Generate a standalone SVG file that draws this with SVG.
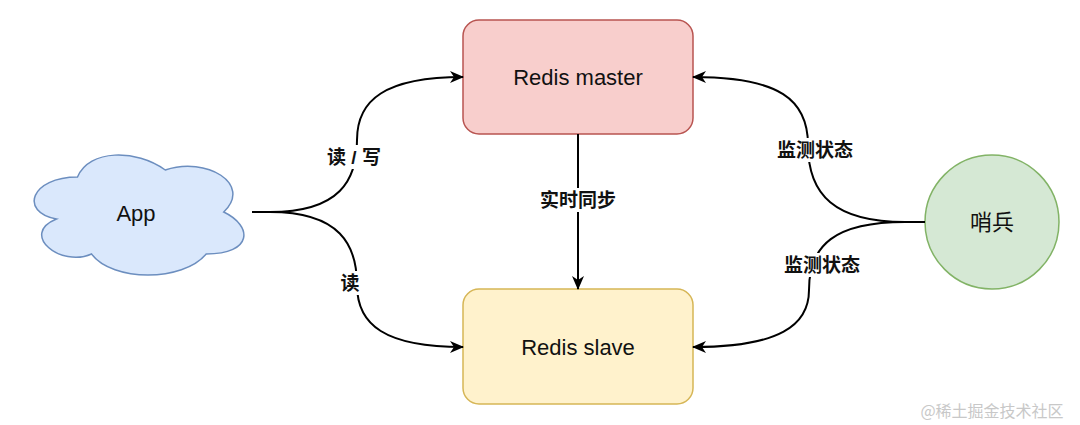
<svg xmlns="http://www.w3.org/2000/svg" width="1080" height="425" viewBox="0 0 1080 425">
<style>
.node{font-family:"Liberation Sans","Noto Sans CJK SC",sans-serif;font-size:22px;fill:#111;text-anchor:middle;dominant-baseline:central}
.lbl{font-family:"Liberation Sans","Noto Sans CJK SC",sans-serif;font-size:19px;font-weight:bold;fill:#111;text-anchor:middle;dominant-baseline:central}
.edge{fill:none;stroke:#000;stroke-width:2;marker-end:url(#arr)}
.bg{fill:#fff}
</style>
<defs>
<marker id="arr" viewBox="0 0 14 12" refX="13" refY="6" markerWidth="14" markerHeight="12" markerUnits="userSpaceOnUse" orient="auto">
<path d="M0,0 L14,6 L0,12 L4,6 Z" fill="#000"/>
</marker>
</defs>
<rect width="1080" height="425" fill="#fff"/>
<g id="app">
<path d="M77.5,177 C30.7,177 19,212 56.4,219 C19,234.4 61.1,268 91.5,254 C112.6,282 182.8,282 206.2,254 C253,254 253,226 223.75,212 C253,184 206.2,156 165.25,170 C136,149 89.2,149 77.5,177 Z" fill="#dae8fc" stroke="#6c8ebf" stroke-width="1.5"/>
<text class="node" x="136" y="213">App</text>
</g>
<g id="master">
<rect x="463" y="20" width="230" height="114" rx="16" fill="#f8cecc" stroke="#b85450" stroke-width="1.5"/>
<text class="node" x="578" y="77">Redis master</text>
</g>
<g id="slave">
<rect x="463" y="289" width="230" height="115" rx="16" fill="#fff2cc" stroke="#d6b656" stroke-width="1.5"/>
<text class="node" x="578" y="347">Redis slave</text>
</g>
<g id="sentinel">
<circle cx="992" cy="222" r="67" fill="#d5e8d4" stroke="#82b366" stroke-width="1.5"/>
<text class="node" x="992" y="222">哨兵</text>
</g>
<g id="connectors">
<path class="edge" d="M252,212 L270,212 C340,212 357,180 357,140 C357,100 385,77 463,77"/>
<path class="edge" d="M252,212 L270,212 C340,212 357,245 357,285 C357,325 385,347 463,347"/>
<path class="edge" d="M578,134 L578,289"/>
<path class="edge" d="M925,222 L905,222 C835,222 808,195 808,145 C808,100 780,77 693,77"/>
<path class="edge" d="M925,222 L905,222 C835,222 809,245 809,290 C809,325 780,347 693,347"/>
<rect class="bg" x="328" y="145" width="58" height="24"/>
<text class="lbl" x="354" y="157">读 / 写</text>
<rect class="bg" x="339" y="271" width="22" height="24"/>
<text class="lbl" x="350" y="283">读</text>
<rect class="bg" x="534" y="188" width="88" height="24"/>
<text class="lbl" x="578" y="200">实时同步</text>
<rect class="bg" x="772" y="138" width="86" height="24"/>
<text class="lbl" x="815" y="150">监测状态</text>
<rect class="bg" x="779" y="253" width="86" height="24"/>
<text class="lbl" x="822" y="265">监测状态</text>
</g>
<text x="992" y="410" font-family="'Noto Sans CJK SC',sans-serif" font-size="16" fill="#c8c8c8" text-anchor="middle" dominant-baseline="central">@稀土掘金技术社区</text>
</svg>
